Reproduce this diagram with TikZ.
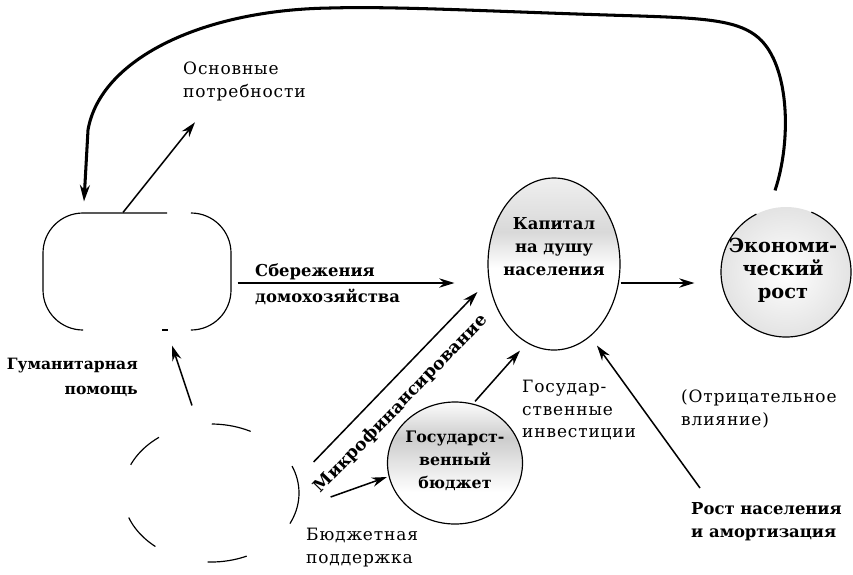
\documentclass[tikz,border=0pt]{standalone}
\usepackage{fontspec}
\setmainfont{DejaVu Serif}
\newfontfamily\wideserif[LetterSpace=5]{DejaVu Serif}
\usetikzlibrary{shapes.geometric,arrows.meta,calc}
\begin{document}
\begin{tikzpicture}[x=0.03cm,y=-0.03cm,
  lbl/.style={font=\fontsize{14}{19.6}\selectfont\bfseries, align=left, inner sep=0pt},
  lblr/.style={font=\fontsize{14.5}{19.6}\selectfont\wideserif, align=left, inner sep=0pt},
  inlbl/.style={font=\fontsize{14}{19.6}\selectfont\bfseries, align=center, inner sep=0pt},
  arr/.style={line width=1.3pt, -{Stealth[length=13pt,width=8pt]}},
  bigloop/.style={line width=2.6pt, -{Stealth[length=14pt,width=8.5pt]}},
  shp/.style={line width=1pt, inner sep=0pt}
]
\useasboundingbox (0,0) rectangle (853,574);

% shadings
\begin{scope}
  \clip (554,264) ellipse [x radius=66, y radius=86];
  \shade[top color=gray!12, bottom color=gray!30] (480,176) rectangle (630,232);
  \shade[top color=gray!30, bottom color=white] (480,232) rectangle (630,268);
\end{scope}
\begin{scope}
  \clip (455,463) ellipse [x radius=67.5, y radius=61];
  \shade[top color=white, bottom color=gray!40] (380,400) rectangle (530,438);
  \shade[top color=gray!40, bottom color=white] (380,438) rectangle (530,492);
\end{scope}
\shade[inner color=white, outer color=gray!22] (786,272) circle [radius=65];

% shapes
\node[shp, rectangle, minimum width=5.64cm, minimum height=3.51cm] (hh) at (137,271.5) {};
\draw[line width=1pt, rounded corners=1.2cm] (167,213) -- (43,213) -- (43,330) -- (83,330);
\draw[line width=1pt, rounded corners=1.2cm] (191,213) -- (231,213) -- (231,330) -- (191,330);
\draw[line width=1pt] (162,330) -- (168,330);
\node[shp, draw, ellipse, minimum width=5.28cm, minimum height=4.14cm,
      dash pattern=on 34pt off 47pt, dash phase=10pt] (bs) at (211,493) {};
\node[shp, draw, ellipse, minimum width=3.96cm, minimum height=5.16cm] (cap) at (554,264) {};
\node[inlbl] at (554,247) {Капитал\\на душу\\населения};
\node[shp, circle, minimum size=3.9cm] (growth) at (786,272) {};
\begin{scope}
  \clip (680,94) -- (695,94) -- (786,272) -- (864,88) -- (880,88) -- (880,360) -- (680,360) -- cycle;
  \draw[line width=1pt] (growth.center) circle [radius=65];
\end{scope}
\node[inlbl, font=\fontsize{16.5}{19.6}\selectfont\bfseries] at (783,270) {Экономи-\\ческий\\рост};
\node[shp, draw, ellipse, minimum width=4.05cm, minimum height=3.66cm] (budget) at (455,463) {};
\node[inlbl, font=\fontsize{13.5}{19.6}\selectfont\bfseries] at (455,461) {Государст-\\венный\\бюджет};

% labels
\node[lblr, anchor=west] (needs) at (183,81.5) {Основные\\потребности};
\node[lbl, anchor=west] (sav1) at (255,272) {Сбережения};
\node[lbl, anchor=west] (sav2) at (255,297) {домохозяйства};
\node[lbl, align=right, font=\fontsize{13.3}{21.5}\selectfont\bfseries, anchor=north east] (hum) at (138,358) {Гуманитарная\\помощь};
\node[lbl, rotate=46, font=\fontsize{14.8}{19.6}\selectfont\bfseries] (micro) at (401,404) {Микрофинансирование};
\node[lblr, anchor=west] (gi) at (522,410) {Государ-\\ственные\\инвестиции};
\node[lblr, anchor=west] (neg) at (681,409) {(Отрицательное\\влияние)};
\node[lbl, anchor=west] (pop) at (691,522) {Рост населения\\и амортизация};
\node[lblr, anchor=west] (bsup) at (306,548) {Бюджетная\\поддержка};

% connectors
\draw[bigloop] ([shift={(-11,-16)}]growth.north)
  .. controls (792,140) and (790,60) .. (755,35)
  .. controls (735,20) and (700,18) .. (640,16)
  .. controls (500,12) and (400,6) .. (330,8)
  .. controls (200,10) and (100,60) .. (88,130)
  -- ([shift={(-53,-11)}]hh.north);
\draw[arr] ([shift={(-14,0)}]hh.north) -- ([shift={(12,21)}]needs.south west);
\draw[arr] ([shift={(6,11.5)}]hh.east) -- ([shift={(-33,19)}]cap.west);
\draw[arr] ([shift={(14,-31)}]bs.east) -- ([shift={(-10,28)}]cap.west);
\draw[arr] ([shift={(-19,-18)}]bs.north) -- ([shift={(35,15)}]hh.south);
\draw[arr] ([shift={(31,4)}]bs.east) -- ([shift={(0,14)}]budget.west);
\draw[arr] ([shift={(20,0)}]budget.north) -- ([shift={(-34,0)}]cap.south);
\draw[arr] ([shift={(9,-34)}]pop.west) -- ([shift={(43,-5)}]cap.south);
\draw[arr] ([shift={(0,19)}]cap.east) -- ([shift={(-26,11)}]growth.west);
\end{tikzpicture}
\end{document}
